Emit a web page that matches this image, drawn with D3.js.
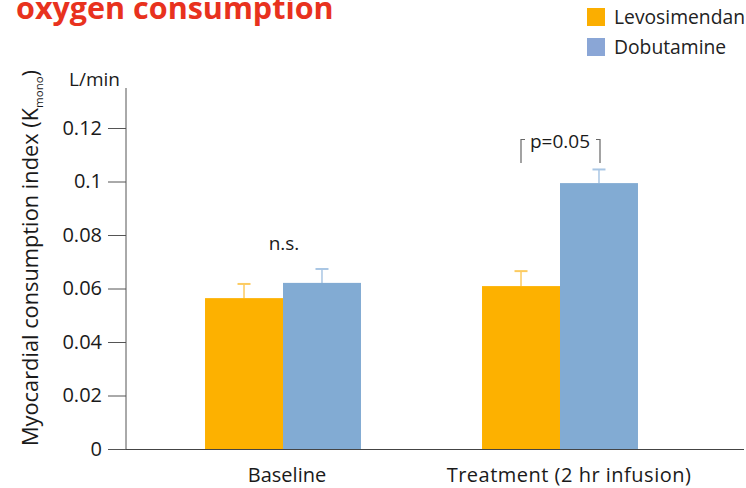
<!DOCTYPE html>
<html><head><meta charset="utf-8">
<script src="https://cdn.jsdelivr.net/npm/d3@7"></script>
<style>body{margin:0;background:#fff}svg{display:block}text{font-family:"Open Sans","Noto Sans",sans-serif}</style>
</head><body><svg id="c" width="746" height="488"></svg>
<script>
const categories = ["Baseline", "Treatment (2 hr infusion)"];
const seriesNames = ["Levosimendan", "Dobutamine"];
const levosimendan = [0.0564, 0.0609];
const dobutamine = [0.0621, 0.0994];
const levoErr = [0.0053, 0.0056];
const dobuErr = [0.0052, 0.0051];
const yTicks = [0, 0.02, 0.04, 0.06, 0.08, 0.1, 0.12];
const yTickLabels = ["0", "0.02", "0.04", "0.06", "0.08", "0.1", "0.12"];
const annotations = ["n.s.", "p=0.05"];

const colors = ["#FDB100", "#82ABD3"];
const errColors = ["#FCCB60", "#A9C6E4"];
const svg = d3.select("#c");

const y = d3.scaleLinear().domain([0, 0.12]).range([449, 128]);
const x0 = d3.scaleBand().domain(categories).range([144.5, 698.5]).paddingInner(0.437).paddingOuter(0.2185);
const x1 = d3.scaleBand().domain(seriesNames).range([0, x0.bandwidth()]);

// Title
svg.append("text").attr("x", 16).attr("y", 19).attr("fill", "#E8321E")
  .attr("font-size", 30.5).attr("font-weight", 700).text("oxygen consumption");

// Legend
seriesNames.forEach((s, i) => {
  const g = svg.append("g").attr("transform", `translate(587,${8 + i * 30})`);
  g.append("rect").attr("width", 18).attr("height", 18).attr("fill", i === 0 ? "#FBAE00" : "#8AA6D6");
  g.append("text").attr("x", 27).attr("y", 16).attr("font-size", 19.3).attr("fill", "#222").text(s);
});

// Y axis
const yAxis = d3.axisLeft(y).tickValues(yTicks).tickFormat((d, i) => yTickLabels[i]).tickSize(18).tickPadding(6);
const ga = svg.append("g").attr("transform", "translate(126,0)").call(yAxis);
ga.select(".domain").remove();
ga.selectAll(".tick line").attr("stroke", "#555");
ga.selectAll(".tick text").attr("font-size", 20).attr("fill", "#1a1a1a").attr("font-family", '"Open Sans","Noto Sans",sans-serif');
svg.append("line").attr("x1", 126).attr("x2", 126).attr("y1", 88).attr("y2", 449).attr("stroke", "#555");

// Y labels
svg.append("text").attr("x", 69).attr("y", 86).attr("font-size", 19).attr("fill", "#1a1a1a").text("L/min");
const yl = svg.append("text").attr("transform", "translate(38,258) rotate(-90)").attr("text-anchor", "middle")
  .attr("font-size", 21.8).attr("fill", "#1a1a1a");
yl.append("tspan").text("Myocardial consumption index (K");
yl.append("tspan").attr("font-size", 11.5).attr("dy", 5).text("mono");
yl.append("tspan").attr("dy", -5).text(")");

// Bars
const data = [levosimendan, dobutamine];
const errs = [levoErr, dobuErr];
categories.forEach((c, ci) => {
  seriesNames.forEach((s, si) => {
    const v = data[si][ci], e = errs[si][ci];
    const bx = x0(c) + x1(s), bw = x1.bandwidth();
    const cx = bx + bw / 2;
    svg.append("line").attr("x1", cx).attr("x2", cx).attr("y1", y(v)).attr("y2", y(v + e))
      .attr("stroke", errColors[si]).attr("stroke-width", 1.5);
    svg.append("line").attr("x1", cx - 6.5).attr("x2", cx + 6.5).attr("y1", y(v + e)).attr("y2", y(v + e))
      .attr("stroke", errColors[si]).attr("stroke-width", 2);
    svg.append("rect").attr("x", bx).attr("y", y(v)).attr("width", bw).attr("height", y(0) - y(v))
      .attr("fill", colors[si]);
  });
});

// X axis
svg.append("line").attr("x1", 126).attr("x2", 744).attr("y1", 449.5).attr("y2", 449.5).attr("stroke", "#444");
categories.forEach((c, i) => {
  svg.append("text").attr("x", x0(c) + x0.bandwidth() / 2 + (i === 0 ? 4 : 9)).attr("y", 482)
    .attr("text-anchor", "middle").attr("font-size", 20).attr("fill", "#1a1a1a")
    .attr("letter-spacing", i === 0 ? 0 : 0.5).text(c);
});

// Annotations
const bc = x0(categories[0]) + x0.bandwidth() / 2;
svg.append("text").attr("x", bc + 1).attr("y", 250).attr("text-anchor", "middle").attr("font-size", 19).attr("fill", "#1a1a1a").text(annotations[0]);
const tc = x0(categories[1]) + x0.bandwidth() / 2;
svg.append("text").attr("x", tc).attr("y", 148).attr("text-anchor", "middle").attr("font-size", 19).attr("fill", "#1a1a1a").text(annotations[1]);
svg.append("path").attr("d", `M${tc - 39},163V139.5H${tc - 35}`).attr("fill", "none").attr("stroke", "#666").attr("stroke-width", 1.2);
svg.append("path").attr("d", `M${tc + 40},163V139.5H${tc + 36}`).attr("fill", "none").attr("stroke", "#666").attr("stroke-width", 1.2);
</script></body></html>
